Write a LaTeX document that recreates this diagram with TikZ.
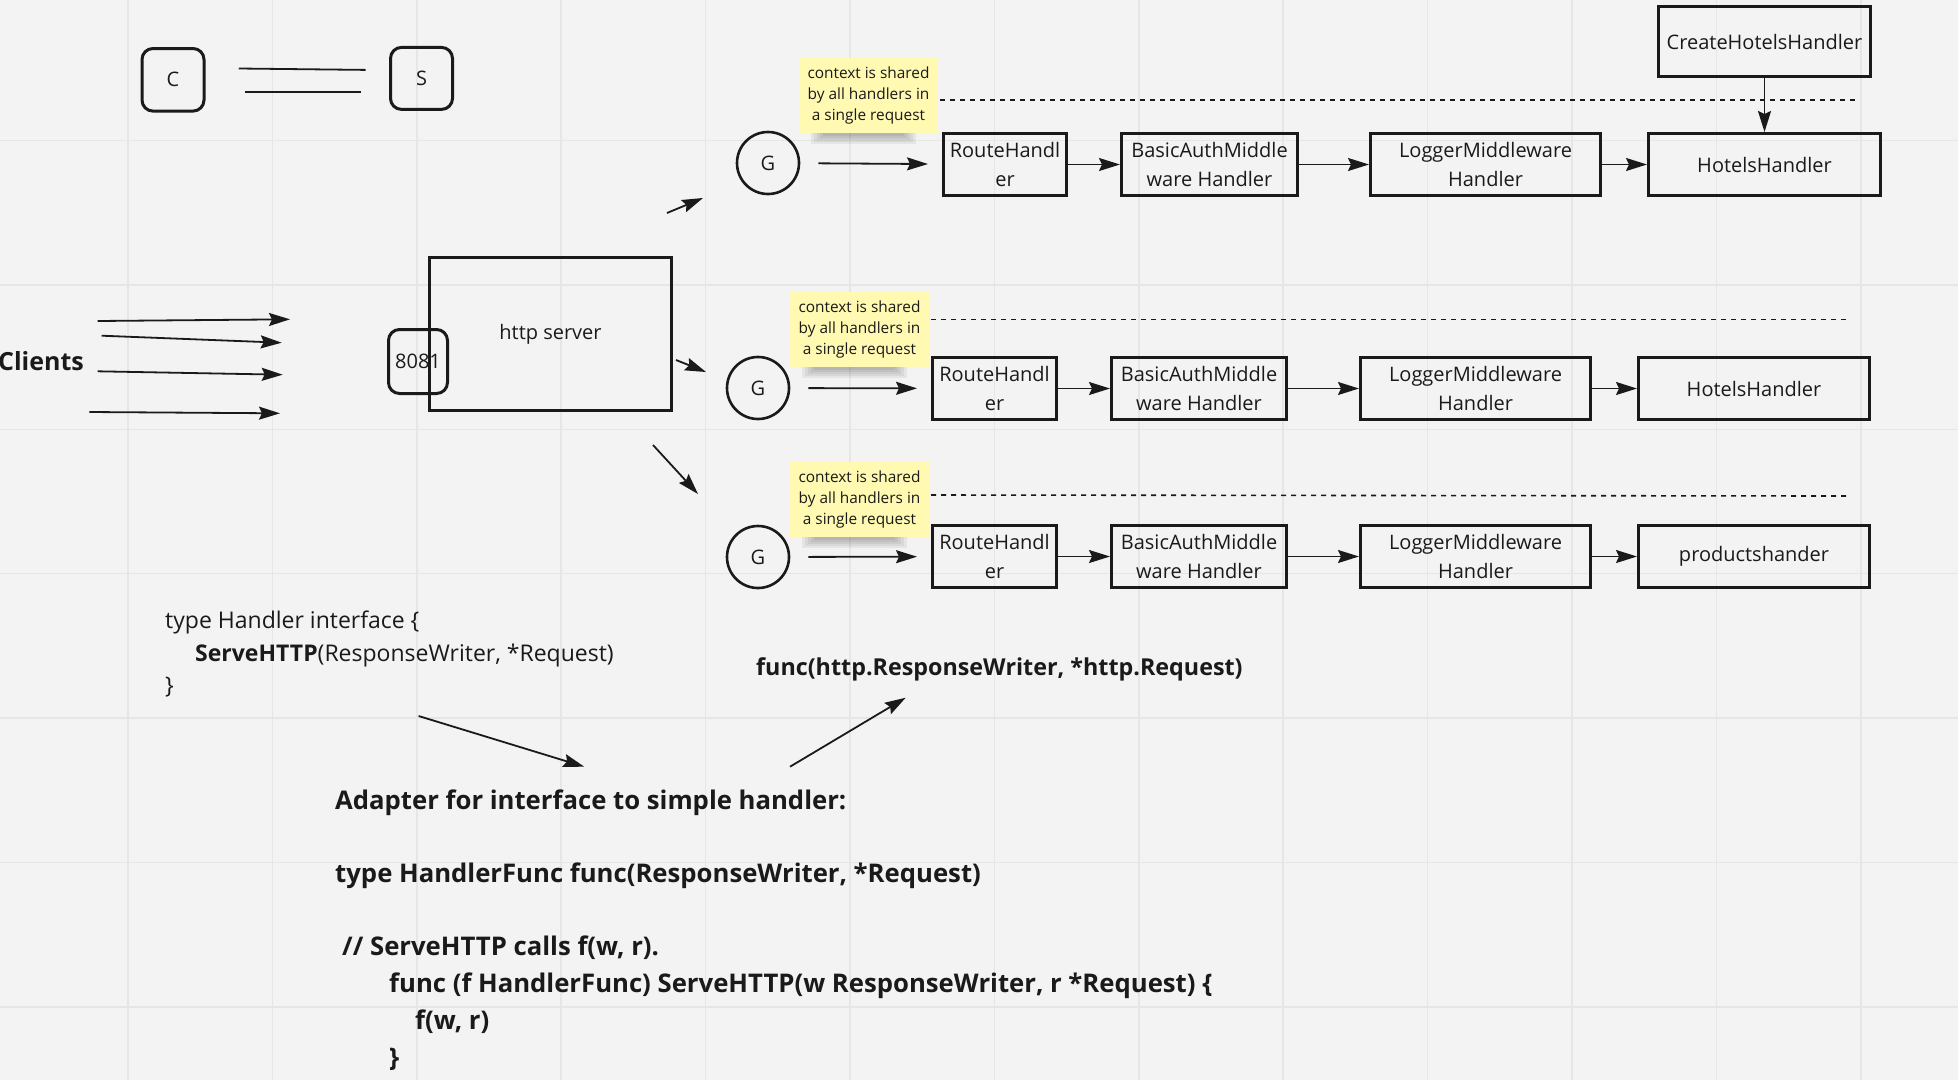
\documentclass[tikz,border=0pt]{standalone}
\usepackage{fontspec}
\setmainfont{Open Sans}
\usetikzlibrary{arrows.meta}
\definecolor{bg}{HTML}{F3F3F3}
\definecolor{gridc}{HTML}{E6E6E6}
\definecolor{ink}{HTML}{1A1A1A}
\definecolor{sticky}{HTML}{FFF9B1}
\tikzset{
  boxn/.style={draw=ink, line width=3pt, inner sep=0pt, align=center, text=ink,
    font=\fontsize{20}{29}\selectfont},
  rboxn/.style={boxn, rounded corners=11pt},
  gnode/.style={draw=ink, line width=2.6pt, circle, minimum size=62pt, inner sep=0pt,
    text=ink, font=\fontsize{20}{24}\selectfont},
  stickynote/.style={fill=sticky, inner sep=0pt, minimum width=139pt, minimum height=75pt,
    align=center, text=ink, font=\fontsize{15.4}{21}\selectfont},
  arr/.style={draw=ink, line width=1.8pt, -{Stealth[length=21pt,width=13pt,inset=3pt]}},
  thinline/.style={draw=ink, line width=1.8pt},
  dashline/.style={draw=ink, line width=1.6pt, dash pattern=on 5pt off 5pt},
  codetxt/.style={anchor=base west, inner sep=0pt, text=ink, font=\fontsize{23}{30}\selectfont},
  codebold/.style={codetxt, font=\fontsize{23.3}{30}\selectfont\bfseries},
  codebig/.style={codetxt, font=\fontsize{25.7}{32}\selectfont\bfseries},
}
\newcommand\stickyshadow[3]{%
  \foreach \k in {0,...,4}{%
    \fill[black, opacity=0.055] (#1+12+3*\k, #3) rectangle (#2-22-3*\k, #3+11-2*\k);
  }%
}
\begin{document}
\begin{tikzpicture}[x=1pt, y=-1pt]
\useasboundingbox (0,0) rectangle (1958,1080);
\fill[bg] (0,0) rectangle (1958,1080);
% grid
\foreach \k in {0,...,12}{ \draw[gridc, line width=1.5pt] (128+144.4*\k,0) -- (128+144.4*\k,1080); }
\foreach \k in {0,...,6}{ \draw[gridc, line width=1.5pt] (0,140.5+144.4*\k) -- (1958,140.5+144.4*\k); }

% C and S
\node[rboxn, minimum width=62pt, minimum height=62.6pt] (cbox) at (173,79.8) {C};
\node[rboxn, minimum width=62pt, minimum height=62pt] (sbox) at (421.5,78.4) {S};
\coordinate (l1a) at (238.75,68.5); \coordinate (l1b) at (365.6,69.9);
\coordinate (l2a) at (245,91.6); \coordinate (l2b) at (361,91.6);
\draw[thinline] (l1a) -- (l1b);
\draw[thinline] (l2a) -- (l2b);

% Clients
\node[anchor=east, inner sep=0pt, text=ink, font=\fontsize{25}{28}\selectfont\bfseries] (clients) at (84,361) {Clients};
\coordinate (c1a) at (97.7,321);   \coordinate (c1b) at (290,319.3);
\coordinate (c2a) at (101.7,335.7); \coordinate (c2b) at (281.7,342.7);
\coordinate (c3a) at (97.7,371.3); \coordinate (c3b) at (282.7,374.7);
\coordinate (c4a) at (89.3,412);   \coordinate (c4b) at (280,413.3);
\draw[arr] (c1a) -- (c1b);
\draw[arr] (c2a) -- (c2b);
\draw[arr] (c3a) -- (c3b);
\draw[arr] (c4a) -- (c4b);

% server
\node[boxn, minimum width=242pt, minimum height=153pt] (srv) at (550.5,334) {http server};
\node[rboxn, minimum width=59pt, minimum height=64pt] (port) at (418,361.5) {8081};
\coordinate (s1a) at (667,213); \coordinate (s1b) at (703,198);
\coordinate (s2a) at (676,360); \coordinate (s2b) at (706,372);
\coordinate (s3a) at (653,445); \coordinate (s3b) at (698,494);
\draw[arr] (s1a) -- (s1b);
\draw[arr] (s2a) -- (s2b);
\draw[arr] (s3a) -- (s3b);

% sticky notes
\stickyshadow{799}{938}{133}
\stickyshadow{790}{929}{367}
\stickyshadow{790}{929}{537}
\node[stickynote] (n1) at (868.5,95.5) {context is shared\\by all handlers in\\a single request};
\node[stickynote] (n2) at (859.5,329.5) {context is shared\\by all handlers in\\a single request};
\node[stickynote] (n3) at (859.5,499.5) {context is shared\\by all handlers in\\a single request};

% dashed lines
\coordinate (d1a) at (940,100);   \coordinate (d1b) at (1858,100);
\coordinate (d2a) at (931,319.5); \coordinate (d2b) at (1846,319.5);
\coordinate (d3a) at (931,495);   \coordinate (d3b) at (1846,496);
\draw[dashline] (d1a) -- (d1b);
\draw[dashline] (d2a) -- (d2b);
\draw[dashline] (d3a) -- (d3b);

% G nodes
\node[gnode] (g1) at (768,163) {G};
\node[gnode] (g2) at (758,388) {G};
\node[gnode] (g3) at (758,557) {G};

% row 1
\node[boxn, minimum width=123pt, minimum height=62pt] (r1) at (1005,164.5) {RouteHandl\\er};
\node[boxn, minimum width=176pt, minimum height=62pt] (b1) at (1209.5,164.5) {BasicAuthMiddle\\ware Handler};
\node[boxn, minimum width=230pt, minimum height=62pt] (lg1) at (1485.5,164.5) {LoggerMiddleware\\Handler};
\node[boxn, minimum width=232pt, minimum height=62pt] (h1) at (1764.5,164.5) {HotelsHandler};
\node[boxn, minimum width=212pt, minimum height=70pt] (create) at (1764.5,41.5) {CreateHotelsHandler};

% row 2
\node[boxn, minimum width=124pt, minimum height=62pt] (r2) at (994.5,388.5) {RouteHandl\\er};
\node[boxn, minimum width=175pt, minimum height=62pt] (b2) at (1199,388.5) {BasicAuthMiddle\\ware Handler};
\node[boxn, minimum width=230pt, minimum height=62pt] (lg2) at (1475.5,388.5) {LoggerMiddleware\\Handler};
\node[boxn, minimum width=231pt, minimum height=62pt] (h2) at (1754,388.5) {HotelsHandler};

% row 3
\node[boxn, minimum width=124pt, minimum height=62pt] (r3) at (994.5,556.5) {RouteHandl\\er};
\node[boxn, minimum width=175pt, minimum height=62pt] (b3) at (1199,556.5) {BasicAuthMiddle\\ware Handler};
\node[boxn, minimum width=230pt, minimum height=62pt] (lg3) at (1475.5,556.5) {LoggerMiddleware\\Handler};
\node[boxn, minimum width=231pt, minimum height=62pt] (p3) at (1754,556.5) {productshander};

% connectors
\draw[arr, shorten <=18pt, shorten >=14pt] (g1) -- (r1);
\draw[arr, shorten <=18pt, shorten >=14pt] (g2) -- (r2);
\draw[arr, shorten <=18pt, shorten >=14pt] (g3) -- (r3);
\draw[arr] (r1) -- (b1);
\draw[arr] (b1) -- (lg1);
\draw[arr] (lg1) -- (h1);
\draw[arr] (r2) -- (b2);
\draw[arr] (b2) -- (lg2);
\draw[arr] (lg2) -- (h2);
\draw[arr] (r3) -- (b3);
\draw[arr] (b3) -- (lg3);
\draw[arr] (lg3) -- (p3);
\draw[arr] (create) -- (h1);

% code text
\node[codetxt] (t1) at (165,628) {type Handler interface \{};
\node[codetxt] (t2) at (195,661) {\textbf{ServeHTTP}(ResponseWriter, *Request)};
\node[codetxt] (t3) at (165,693) {\}};
\node[codebold] (t4) at (756,675) {func(http.ResponseWriter, *http.Request)};
\node[codebig] (t5) at (335,809) {Adapter for interface to simple handler:};
\node[codebig] (t6) at (335,882) {type HandlerFunc func(ResponseWriter, *Request)};
\node[codebig] (t7) at (342,955) {// ServeHTTP calls f(w, r).};
\node[codebig] (t8) at (389,992) {func (f HandlerFunc) ServeHTTP(w ResponseWriter, r *Request) \{};
\node[codebig] (t9) at (415,1029) {f(w, r)};
\node[codebig] (t10) at (389,1066) {\}};

\coordinate (a1a) at (418.6,716); \coordinate (a1b) at (584.3,766.7);
\coordinate (a2a) at (790,766.7); \coordinate (a2b) at (905.7,697.7);
\draw[arr] (a1a) -- (a1b);
\draw[arr] (a2a) -- (a2b);
\end{tikzpicture}
\end{document}
